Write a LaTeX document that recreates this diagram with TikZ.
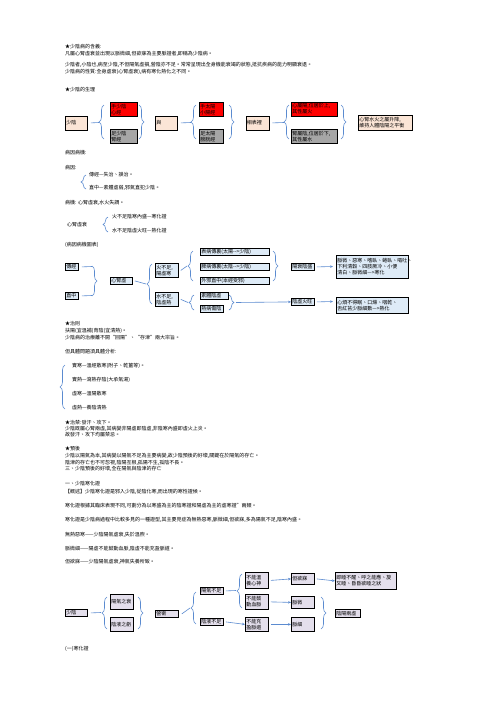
\documentclass[tikz,border=0pt]{standalone}
\usepackage{fontspec}
\newfontfamily\cjk{Noto Sans CJK TC}
\usetikzlibrary{decorations.pathreplacing,arrows.meta}
\definecolor{peachc}{HTML}{FBE5D6}
\definecolor{redc}{HTML}{FF0000}
\definecolor{grayc}{HTML}{A6A6A6}
\definecolor{bluec}{HTML}{DEEBF7}
\definecolor{lavc}{HTML}{E4DFEC}
\definecolor{linec}{HTML}{5B8BD0}
\tikzset{
  base/.style={font=\cjk\fontsize{5}{6}\selectfont, inner sep=0pt},
  txt/.style={base, anchor=west},
  box/.style={base, draw=black, line width=0.8pt, inner xsep=1pt, inner ysep=0.5pt, align=left, anchor=north west},
  brc/.style={draw=linec, line width=0.6pt, decorate, decoration={brace, amplitude=5pt}},
  lnk/.style={draw=linec, line width=0.6pt},
  arr/.style={draw=linec, line width=0.6pt, -{Stealth[length=3pt,width=2.5pt]}}
}
\newcommand{\bx}[6]{% name, x1, y1, x2, y2, style
  \node[box,#6, minimum width={(#4-#2)*1pt}, minimum height={(#5-#3)*1pt}, text width={(#4-#2-2)*1pt}] (#1) at (#2,#3)}
\begin{document}
\begin{tikzpicture}[x=1pt,y=-1pt]
\useasboundingbox (0,0) rectangle (496,702);
\fill[white] (0,0) rectangle (496,702);
% ---- text block 1
\node[txt] (t1) at (65,47) {★少陰病的含義:};
\node[txt] (t2) at (65,54) {凡屬心腎虛衰並出現以脈微細,但欲寐為主要脈證者,即稱為少陰病。};
\node[txt] (t3) at (65,65) {少陰者,小陰也,病至少陰,不但陽氣虛損,營陰亦不足。常常呈現出全身機能衰竭的狀態,抵抗疾病的能力明顯衰退。};
\node[txt] (t4) at (65,72) {少陰病的性質:全身虛衰(心腎虛衰),病有寒化熱化之不同。};
\node[txt] (t5) at (65,90) {★少陰的生理};
% ---- diagram 1
\bx{a1}{65}{115.5}{87}{129.5}{fill=peachc}{少陰};
\bx{a2}{110}{102}{137}{115.5}{fill=redc}{手少陰\\心經};
\bx{a3}{110}{129}{137}{142.5}{fill=grayc}{足少陰\\腎經};
\bx{a4}{155}{115.5}{177}{129.5}{fill=peachc}{與};
\bx{a5}{199}{102}{223}{115.5}{fill=redc}{手太陽\\小腸經};
\bx{a6}{199}{129}{223}{142.5}{fill=grayc}{足太陽\\膀胱經};
\bx{a7}{245.5}{115.5}{268.5}{129.5}{fill=peachc}{相表裡};
\bx{a8}{291}{101.5}{337}{115.5}{fill=redc}{心屬陽,位居於上,\\其性屬火};
\bx{a9}{291}{129}{337}{142.5}{fill=grayc}{腎屬陰,位居於下,\\其性屬水};
\bx{a10}{358}{115}{412}{130}{fill=peachc}{心腎水火之屬升降,\\維持人體陰陽之平衡};
\draw[brc] (104,139) -- (104,105);
\draw[lnk] (a1.east) ++(3,0) -- (99,122.5);
\draw[brc] (139,105) -- (139,139);
\draw[brc] (196,139) -- (196,105);
\draw[lnk] (a4.east) ++(3,0) -- (191,122.5);
\draw[brc] (229,105) -- (229,139);
\draw[brc] (289,139) -- (289,105);
\draw[lnk] (a7.east) ++(3,0) -- (284,122.5);
\draw[brc] (341,105) -- (341,139);
% ---- text block 2
\node[txt] (t6) at (65,153) {病因病機:};
\node[txt] (t7) at (65,168) {病因:};
\draw[brc] (86,189) -- (86,175);
\node[txt] (t8) at (89,175) {傳經—失治、誤治。};
\node[txt] (t9) at (89,188) {直中—素體虛弱,邪氣直犯少陰。};
\node[txt] (t10) at (65,203) {病機: 心腎虛衰,水火失調。};
\node[txt] (t11) at (67,225) {心腎虛衰};
\draw[brc] (108,232) -- (108,217);
\node[txt] (t12) at (112,217) {火不足陰寒內盛—寒化證};
\node[txt] (t13) at (112,231) {水不足陰虛火旺—熱化證};
\node[txt] (t14) at (65,245) {(病因病機圖表)};
% ---- diagram 2
\bx{b1}{65}{263}{78}{270}{fill=bluec}{傳經};
\bx{b2}{65}{292}{78}{299}{fill=bluec}{直中};
\draw[brc] (92,266) -- (92,296);
\draw[lnk] (b1.east) ++(3,0) -- (92,266.5);
\draw[lnk] (b2.east) ++(3,0) -- (92,295.5);
\bx{c1}{110}{277}{132}{284}{fill=bluec}{心腎虛};
\draw[brc] (152,304) -- (152,264);
\draw[lnk] (c1.east) ++(2,0) -- (146,284);
\bx{c2}{155}{263}{178}{277}{fill=bluec}{火不足,\\陽虛寒};
\bx{c3}{155}{292}{178}{306}{fill=bluec}{水不足,\\陰虛熱};
\bx{d1}{200}{248}{269}{255}{fill=bluec}{表病傳裏(太陽-->少陰)};
\bx{d2}{200}{263}{269}{270}{fill=bluec}{脾病傳裏(太陰-->少陰)};
\bx{d3}{200}{277}{269}{284}{fill=bluec}{外邪直中(本經受邪)};
\draw[brc] (193,281) -- (193,251);
\draw[lnk] (c2.east) ++(2,0) -- (187,266);
\draw[brc] (273,251) -- (273,281);
\bx{e1}{291}{263}{314}{270}{fill=bluec}{陽衰陰盛};
\draw[arr] (e1.east) ++(2,0) -- (333,266.5);
\bx{e2}{336}{255}{408}{278}{fill=bluec}{脈微、惡寒、嗜臥、蜷臥、嘔吐、\\下利清穀、四肢厥冷、小便\\清白、脈微細—>寒化};
\bx{d4}{200}{292}{228}{299}{fill=bluec}{素體陰虛};
\bx{d5}{200}{305}{223}{312}{fill=bluec}{熱病傷陰};
\draw[brc] (194,310) -- (194,295);
\draw[lnk] (c3.east) ++(2,0) -- (188,302.5);
\draw[brc] (229,295) -- (229,310);
\bx{e3}{291}{298}{314}{305}{fill=bluec}{陰虛火旺};
\draw[arr] (236,302.5) -- (e3.west);
\draw[arr] (e3.east) ++(2,0) -- (333,301.5);
\bx{e4}{336}{297}{408}{313}{fill=bluec}{心煩不得眠、口燥、咽乾、\\舌紅苔少脈細數—>熱化};
% ---- text block 3
\node[txt] (t15) at (65,324) {★治則};
\node[txt] (t16) at (65,331) {扶陽(宜溫補)育陰(宜清熱)。};
\node[txt] (t17) at (65,338) {少陰病的治療離不開“回陽”、“存津”兩大宗旨。};
\node[txt] (t18) at (65,352) {但具體問題須具體分析:};
\draw[brc] (65,409) -- (65,365);
\node[txt] (t19) at (72,366) {實寒—溫經散寒(附子、乾薑等)。};
\node[txt] (t20) at (72,380) {實熱—瀉熱存陰(大承氣湯)};
\node[txt] (t21) at (72,394) {虛寒—溫陽散寒};
\node[txt] (t22) at (72,408) {虛熱—養陰清熱};
\node[txt] (t23) at (65,423) {★治禁:發汗、攻下。};
\node[txt] (t24) at (65,428.5) {少陰既屬心腎兩虛,其病變非陽虛即陰虛,非陰寒內盛即虛火上炎。};
\node[txt] (t25) at (65,435) {故發汗、攻下均屬禁忌。};
\node[txt] (t26) at (65,449) {★預後};
\node[txt] (t27) at (65,455.5) {少陰以陽氣為本,其病變以陽氣不足為主要病變,故少陰預後的好壞,關鍵在於陽氣的存亡。};
\node[txt] (t28) at (65,462.5) {陰津的存亡也不可忽視,陰陽互根,孤陽不生,孤陰不長。};
\node[txt] (t29) at (65,469) {三、少陰預後的好壞,全在陽氣與陰津的存亡};
\node[txt] (t30) at (65,484) {一、少陰寒化證};
\node[txt] (t31) at (65,492) {【概述】少陰寒化證是邪入少陰,從陰化寒,而出現的寒性證候。};
\node[txt] (t32) at (65,506) {寒化證根據其臨床表現不同,可劃分為以寒盛為主的陰寒證和陽虛為主的虛寒證”兩類。};
\node[txt] (t33) at (65,520) {寒化證是少陰病過程中比較多見的一種證型,其主要見症為無熱惡寒,脈微細,但欲寐,多為陽氣不足,陰寒內盛。};
\node[txt] (t34) at (65,535) {無熱惡寒——少陰陽氣虛衰,失於溫煦。};
\node[txt] (t35) at (65,549) {脈微細——陽虛不能鼓動血脈,陰虛不能充盈脈道。};
\node[txt] (t36) at (65,562) {但欲寐——少陰陽氣虛衰,神氣失養所致。};
% ---- diagram 3
\bx{f1}{65}{609}{87}{616}{fill=lavc}{少陰};
\draw[brc] (107,629) -- (107,597);
\draw[lnk] (f1.east) ++(3,0) -- (101,612.5);
\bx{f2}{110}{594}{133}{609}{fill=lavc}{陽氣之衰};
\bx{f3}{110}{617}{133}{631}{fill=lavc}{陰液之虧};
\draw[brc] (138,597) -- (138,629);
\bx{f4}{155}{610}{178}{617}{fill=lavc}{營衛};
\draw[brc] (196,624) -- (196,592);
\draw[lnk] (f4.east) ++(3,0) -- (190,608);
\bx{g1}{200}{587}{223}{594}{fill=lavc}{陽氣不足};
\bx{g2}{200}{618}{223}{625}{fill=lavc}{陰液不足};
\draw[brc] (242,608) -- (242,574);
\draw[lnk] (g1.east) ++(2,0) -- (236,590.5);
\bx{h1}{245}{572}{268}{588}{fill=lavc}{不能溫\\養心神};
\bx{h2}{245}{594}{268}{609}{fill=lavc}{不能鼓\\動血脈};
\bx{h3}{245}{617}{268}{631}{fill=lavc}{不能充\\盈脈道};
\draw[arr] (g2.east) ++(2,0) -- (h3.west);
\bx{i1}{291}{573}{314}{584}{fill=lavc}{但欲寐};
\bx{i2}{291}{596}{314}{608}{fill=lavc}{脈微};
\bx{i3}{291}{617}{314}{631}{fill=lavc}{脈細};
\draw[arr] (h1.east) ++(2,0) -- (i1.west);
\draw[arr] (h2.east) ++(2,0) -- (i2.west);
\draw[arr] (h3.east) ++(2,0) -- (i3.west);
\bx{j1}{335}{572}{396}{589}{fill=lavc}{即睡不醒、呼之能應、旋\\又睡、昏昏欲睡之狀};
\draw[arr] (i1.east) ++(2,0) -- (j1.west);
\draw[brc] (321,597) -- (321,629);
\bx{j2}{335}{609}{360}{617}{fill=lavc}{陰陽兩虛};
\node[txt] (t37) at (65,649) {(一)寒化證};
\end{tikzpicture}
\end{document}
